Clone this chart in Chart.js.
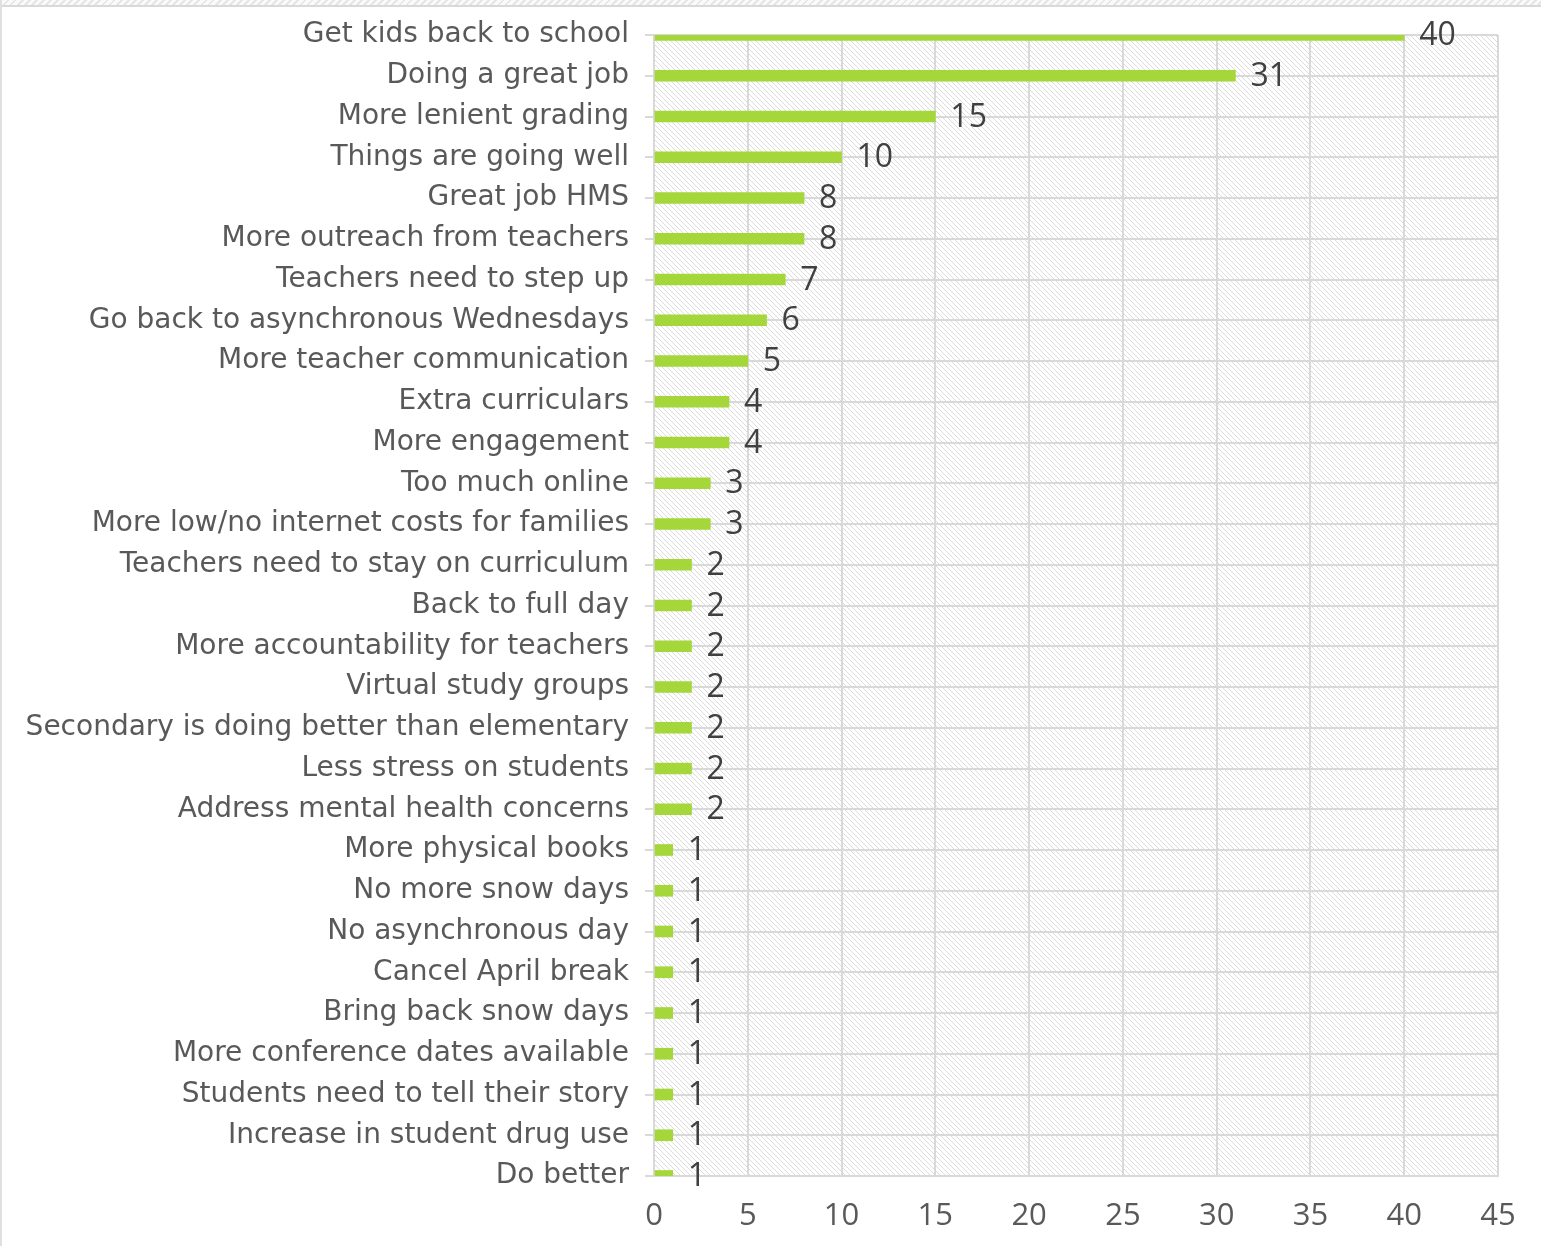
<!DOCTYPE html>
<html>
<head>
<meta charset="utf-8">
<script src="https://cdn.jsdelivr.net/npm/chart.js@4.4.1/dist/chart.umd.min.js"></script>
<style>
  html, body { margin: 0; padding: 0; background: #fff; }
  #wrap { position: relative; width: 1541px; height: 1246px; overflow: hidden; }
  #topStrip {
    position: absolute; left: 0; top: 0; width: 1541px; height: 5px;
    background: repeating-linear-gradient(135deg, #e6e6e6 0 2px, #fafafa 2px 5px);
    border-bottom: 2px solid #d9d9d9;
  }
  #leftEdge { position: absolute; left: 0; top: 0; width: 2px; height: 1246px; background: #e0e0e0; }
  canvas { position: absolute; left: 0; top: 0; }
</style>
</head>
<body>
<div id="wrap">
  <div id="topStrip"></div>
  <div id="leftEdge"></div>
  <canvas id="barChart" width="1541" height="1246"></canvas>
</div>
<script>
const categories = [
    'Get kids back to school', 'Doing a great job', 'More lenient grading', 'Things are going well',
    'Great job HMS', 'More outreach from teachers', 'Teachers need to step up',
    'Go back to asynchronous Wednesdays', 'More teacher communication', 'Extra curriculars',
    'More engagement', 'Too much online', 'More low/no internet costs for families',
    'Teachers need to stay on curriculum', 'Back to full day', 'More accountability for teachers',
    'Virtual study groups', 'Secondary is doing better than elementary', 'Less stress on students',
    'Address mental health concerns', 'More physical books', 'No more snow days',
    'No asynchronous day', 'Cancel April break', 'Bring back snow days',
    'More conference dates available', 'Students need to tell their story',
    'Increase in student drug use', 'Do better'
];

const counts = [40, 31, 15, 10, 8, 8, 7, 6, 5, 4, 4, 3, 3, 2, 2, 2, 2, 2, 2, 2, 1, 1, 1, 1, 1, 1, 1, 1, 1];

const xTicks = [0, 5, 10, 15, 20, 25, 30, 35, 40, 45];

// diagonal hatch behind the plot area
function makeHatch() {
    const c = document.createElement('canvas');
    c.width = 5;
    c.height = 5;
    const g = c.getContext('2d');
    g.fillStyle = '#ffffff';
    g.fillRect(0, 0, 5, 5);
    g.strokeStyle = '#dcdcdc';
    g.lineWidth = 1;
    g.beginPath();
    g.moveTo(-1, -1); g.lineTo(6, 6);
    g.moveTo(-1, 4); g.lineTo(1, 6);
    g.moveTo(4, -1); g.lineTo(6, 1);
    g.stroke();
    return g.createPattern(c, 'repeat');
}

const hatchBackground = {
    id: 'hatchBackground',
    beforeDraw(chart) {
        const { ctx, chartArea } = chart;
        ctx.save();
        ctx.fillStyle = makeHatch();
        ctx.fillRect(chartArea.left, chartArea.top, chartArea.right - chartArea.left, chartArea.bottom - chartArea.top);
        ctx.restore();
    }
};

const valueLabels = {
    id: 'valueLabels',
    afterDatasetsDraw(chart) {
        const { ctx } = chart;
        const meta = chart.getDatasetMeta(0);
        ctx.save();
        ctx.font = '32px "Open Sans", sans-serif';
        ctx.fillStyle = '#404040';
        ctx.textAlign = 'left';
        ctx.textBaseline = 'middle';
        meta.data.forEach((bar, i) => {
            ctx.fillText(String(counts[i]), bar.x + 15, bar.y + 1);
        });
        ctx.restore();
    }
};

const barCtx = document.getElementById('barChart').getContext('2d');
const barChart = new Chart(barCtx, {
    type: 'bar',
    data: {
        labels: categories,
        datasets: [{
            data: counts,
            backgroundColor: '#a5d63a',
            barThickness: 11,
            borderWidth: 0
        }]
    },
    options: {
        indexAxis: 'y',
        responsive: false,
        animation: false,
        layout: {
            padding: { top: 35, right: 43, bottom: 0, left: 0 }
        },
        scales: {
            y: {
                offset: false,
                grid: {
                    offset: false,
                    color: '#d9d9d9',
                    tickLength: 9,
                    lineWidth: 2
                },
                border: { color: '#d9d9d9', width: 2 },
                ticks: {
                    autoSkip: false,
                    padding: 16,
                    color: '#595959',
                    font: { family: '"DejaVu Sans", sans-serif', size: 28 }
                },
                afterFit(scale) {
                    scale.width = 654;
                }
            },
            x: {
                min: 0,
                max: 45,
                afterBuildTicks(scale) {
                    scale.ticks = xTicks.map(v => ({ value: v }));
                },
                grid: {
                    color: '#d9d9d9',
                    drawTicks: false,
                    lineWidth: 2
                },
                border: { color: '#d9d9d9', width: 2 },
                ticks: {
                    padding: 22,
                    color: '#595959',
                    font: { family: '"Open Sans", sans-serif', size: 31 }
                },
                afterFit(scale) {
                    scale.height = 70;
                }
            }
        },
        plugins: {
            legend: { display: false },
            tooltip: { enabled: false }
        }
    },
    plugins: [hatchBackground, valueLabels]
});
</script>
</body>
</html>
